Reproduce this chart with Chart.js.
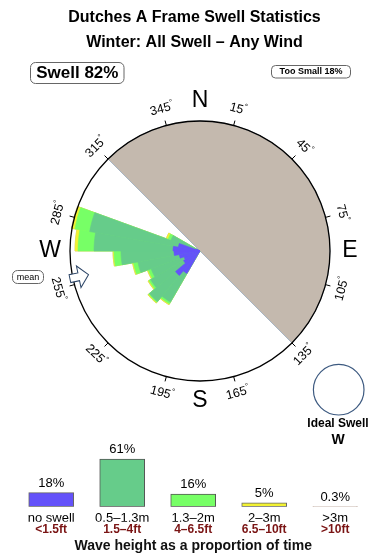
<!DOCTYPE html>
<html>
<head>
<meta charset="utf-8">
<title>Dutches A Frame Swell Statistics</title>
<script src="https://cdn.jsdelivr.net/npm/chart.js@4.4.1/dist/chart.umd.min.js"></script>
<style>
    html, body { margin: 0; padding: 0; background: #fff; }
    #wrap { position: relative; width: 390px; height: 560px; overflow: hidden; }
    #rose { position: absolute; left: 0; top: 0; }
    #heights { position: absolute; left: 0; top: 430px; }
</style>
</head>
<body>
<div id="wrap">
    <canvas id="rose" width="390" height="560"></canvas>
    <canvas id="heights" width="390" height="130"></canvas>
</div>
<script>
(function() {
    'use strict';

    const FONT = '"Liberation Sans", Arial, Helvetica, sans-serif';

    const titleLines = ['Dutches A Frame Swell Statistics', 'Winter: All Swell \u2013 Any Wind'];
    const swellShare = 82;
    const tooSmallShare = 18;

    // Direction bins are 10 degrees wide, named by the bearing they start at
    const binStarts = [210, 220, 230, 240, 250, 260, 270, 280, 290];
    // Radial length of each wave-height band in each bin (rose radius = 130)
    const noSwell = [26, 32, 19, 17, 21, 26, 27, 22, 4];
    const band05to13 = [33, 34, 38, 35, 42, 53, 79, 90, 27];
    const band13to2 = [2, 1, 2, 3, 4.5, 7, 16, 15, 3];
    const band2to3 = [1, 1, 1, 1, 1, 1, 3, 3, 2];
    const band3up = [0, 0, 0, 0, 0, 0, 0, 0.5, 0];

    const bandNames = ['no swell', '0.5-1.3m', '1.3-2m', '2-3m', '>3m'];
    const bandColors = ['#6452fa', '#66cc8a', '#77ff66', '#f2f232', '#bba59a'];

    // Land sector, from bearing 315 clockwise through east to 135
    const landFrom = 315;
    const landSpan = 180;

    const cardinals = ['N', 'E', 'S', 'W'];
    const cardinalBearings = [0, 90, 180, 270];
    const degreeTicks = [15, 45, 75, 105, 135, 165, 195, 225, 255, 285, 315, 345];
    const meanBearing = 258;
    const idealDirection = 'W';

    // Wave height histogram
    const sizeMetres = ['no swell', '0.5\u20131.3m', '1.3\u20132m', '2\u20133m', '>3m'];
    const sizeFeet = ['<1.5ft', '1.5\u20134ft', '4\u20136.5ft', '6.5\u201310ft', '>10ft'];
    const sizeShares = [18, 61, 16, 5, 0.3];
    const sizeBorders = ['#666', '#555', '#555', '#666', '#bba59a'];

    Chart.defaults.font.family = FONT;
    Chart.defaults.color = '#000';

    /**
     * Direction labels of the 36 rose bins
     */
    const dirLabels = [];
    for (let d = 0; d < 360; d += 10) dirLabels.push(d);

    /**
     * Stacked rose bands: each dataset holds the cumulative radius,
     * dataset 0 (smallest) is painted last, on top
     */
    const bands = [noSwell, band05to13, band13to2, band2to3, band3up];
    const roseDatasets = bands.map(function(band, k) {
        const data = dirLabels.map(function() { return 0; });
        binStarts.forEach(function(start, i) {
            let total = 0;
            for (let j = 0; j <= k; j++) total += bands[j][i];
            data[start / 10] = total;
        });
        return {
            label: bandNames[k],
            data: data,
            backgroundColor: bandColors[k],
            borderColor: bandColors[k],
            borderWidth: 0.6
        };
    });
    roseDatasets.push({
        label: 'land',
        data: [0, 130],
        angle: [landFrom, landSpan],
        backgroundColor: '#c4b9ae',
        borderColor: '#a9b5c3',
        borderWidth: 1
    });

    function roundBox(ctx, x, y, w, h, rad) {
        ctx.beginPath();
        ctx.roundRect(x, y, w, h, rad);
        ctx.fillStyle = '#fff';
        ctx.fill();
        ctx.strokeStyle = '#666';
        ctx.lineWidth = 1;
        ctx.stroke();
    }

    /**
     * Titles, compass labels, boxes and the mean arrow around the rose
     */
    const roseDecor = {
        id: 'roseDecor',
        afterDraw: function(chart) {
            const ctx = chart.ctx;
            const scale = chart.scales.r;
            const cx = scale.xCenter;
            const cy = scale.yCenter;
            const R = scale.drawingArea;
            const at = function(bearing, dist) {
                const a = bearing * Math.PI / 180;
                return { x: cx + dist * Math.sin(a), y: cy - dist * Math.cos(a) };
            };

            ctx.save();
            ctx.textAlign = 'center';
            ctx.textBaseline = 'middle';
            ctx.fillStyle = '#000';

            // titles
            ctx.font = 'bold 16px ' + FONT;
            ctx.fillText(titleLines[0], 194.5, 17.5);
            ctx.fillText(titleLines[1], 194.5, 42.5);

            // summary boxes
            roundBox(ctx, 30.5, 62.5, 93.5, 21, 5);
            ctx.fillStyle = '#000';
            ctx.font = 'bold 17px ' + FONT;
            ctx.fillText('Swell ' + swellShare + '%', 77.3, 73.8);

            roundBox(ctx, 271.5, 65.5, 79, 12.5, 4);
            ctx.fillStyle = '#000';
            ctx.font = 'bold 9px ' + FONT;
            ctx.fillText('Too Small ' + tooSmallShare + '%', 311, 72);

            roundBox(ctx, 12.5, 270.5, 31, 13, 5);
            ctx.fillStyle = '#000';
            ctx.font = '9px ' + FONT;
            ctx.fillText('mean', 28, 277.2);

            // tick marks and degree labels
            ctx.strokeStyle = '#000';
            ctx.lineWidth = 1;
            degreeTicks.forEach(function(b) {
                const p0 = at(b, R);
                const p1 = at(b, R + 5);
                ctx.beginPath();
                ctx.moveTo(p0.x, p0.y);
                ctx.lineTo(p1.x, p1.y);
                ctx.stroke();

                const p = at(b, R + 17);
                const rot = (b > 90 && b < 270) ? b - 180 : b;
                ctx.save();
                ctx.translate(p.x, p.y);
                ctx.rotate(rot * Math.PI / 180);
                ctx.textAlign = 'left';
                ctx.font = '12.5px ' + FONT;
                const numW = ctx.measureText(String(b)).width;
                ctx.font = '8px ' + FONT;
                const degW = ctx.measureText('\u00b0').width;
                const x0 = -(numW + degW) / 2;
                ctx.font = '12.5px ' + FONT;
                ctx.fillText(String(b), x0, 0);
                ctx.font = '8px ' + FONT;
                ctx.fillText('\u00b0', x0 + numW, -4);
                ctx.restore();
            });

            // compass letters
            ctx.font = '23px ' + FONT;
            cardinals.forEach(function(c, i) {
                const p = at(cardinalBearings[i], 150);
                ctx.fillText(c, p.x, p.y);
            });

            // mean direction arrow, pointing at the centre
            ctx.save();
            ctx.translate(cx, cy);
            ctx.rotate((meanBearing - 90) * Math.PI / 180);
            ctx.beginPath();
            ctx.moveTo(R - 16, 0);
            ctx.lineTo(R - 6, -11);
            ctx.lineTo(R - 6, -4);
            ctx.lineTo(R + 3, -4);
            ctx.lineTo(R + 3, 4);
            ctx.lineTo(R - 6, 4);
            ctx.lineTo(R - 6, 11);
            ctx.closePath();
            ctx.fillStyle = '#fff';
            ctx.fill();
            ctx.strokeStyle = '#2b4466';
            ctx.lineWidth = 1;
            ctx.stroke();
            ctx.restore();

            // ideal swell marker
            ctx.beginPath();
            ctx.arc(338.7, 389.7, 25.3, 0, Math.PI * 2);
            ctx.strokeStyle = '#3d5a80';
            ctx.lineWidth = 1.2;
            ctx.stroke();
            ctx.fillStyle = '#000';
            ctx.font = 'bold 12px ' + FONT;
            ctx.fillText('Ideal Swell', 338, 423.5);
            ctx.font = 'bold 14px ' + FONT;
            ctx.fillText(idealDirection, 338, 440.5);

            ctx.restore();
        }
    };

    /**
     * Percent labels over the histogram bars
     */
    const shareLabels = {
        id: 'shareLabels',
        afterDatasetsDraw: function(chart) {
            const ctx = chart.ctx;
            ctx.save();
            ctx.font = '13px ' + FONT;
            ctx.fillStyle = '#000';
            ctx.textAlign = 'center';
            ctx.textBaseline = 'middle';
            chart.getDatasetMeta(0).data.forEach(function(bar, i) {
                ctx.fillText(sizeShares[i] + '%', bar.x, bar.y - 9.5);
            });
            ctx.restore();
        }
    };

    new Chart(document.getElementById('rose'), {
        type: 'polarArea',
        data: { labels: dirLabels, datasets: roseDatasets },
        options: {
            responsive: false,
            animation: false,
            layout: { padding: { left: 70, right: 60, top: 121, bottom: 179 } },
            plugins: {
                legend: { display: false },
                tooltip: { enabled: false }
            },
            scales: {
                r: {
                    min: 0,
                    max: 130,
                    z: 1,
                    startAngle: 0,
                    ticks: { display: false, stepSize: 130 },
                    grid: { circular: true, color: '#000', lineWidth: 1.3, z: 1 },
                    angleLines: { display: false },
                    pointLabels: { display: false }
                }
            }
        },
        plugins: [roseDecor]
    });

    new Chart(document.getElementById('heights'), {
        type: 'bar',
        data: {
            labels: sizeMetres,
            datasets: [{
                data: sizeShares,
                backgroundColor: bandColors,
                borderColor: sizeBorders,
                borderWidth: 1,
                borderSkipped: false,
                barThickness: 45
            }]
        },
        options: {
            responsive: false,
            animation: false,
            layout: { padding: { left: 15.7, right: 19.3, top: 22, bottom: 5.6 } },
            plugins: {
                legend: { display: false },
                tooltip: { enabled: false }
            },
            scales: {
                y: { display: false, min: 0, max: 70 },
                x: {
                    position: 'bottom',
                    weight: 0,
                    grid: { display: false, drawTicks: false },
                    border: { display: false },
                    ticks: { padding: 4, maxRotation: 0, autoSkip: false, color: '#000', font: { size: 13 } },
                    afterFit: function(s) { s.height = 15; }
                },
                x2: {
                    type: 'category',
                    labels: sizeFeet,
                    position: 'bottom',
                    offset: true,
                    weight: 1,
                    grid: { display: false, drawTicks: false },
                    border: { display: false },
                    ticks: { padding: 0.5, maxRotation: 0, autoSkip: false, color: '#7a1414', font: { size: 12, weight: 'bold' } },
                    title: {
                        display: true,
                        text: 'Wave height as a proportion of time',
                        color: '#111',
                        font: { size: 14, weight: 'bold' },
                        padding: 0
                    },
                    afterFit: function(s) { s.height = 32.7; }
                }
            }
        },
        plugins: [shareLabels]
    });
})();
</script>
</body>
</html>
